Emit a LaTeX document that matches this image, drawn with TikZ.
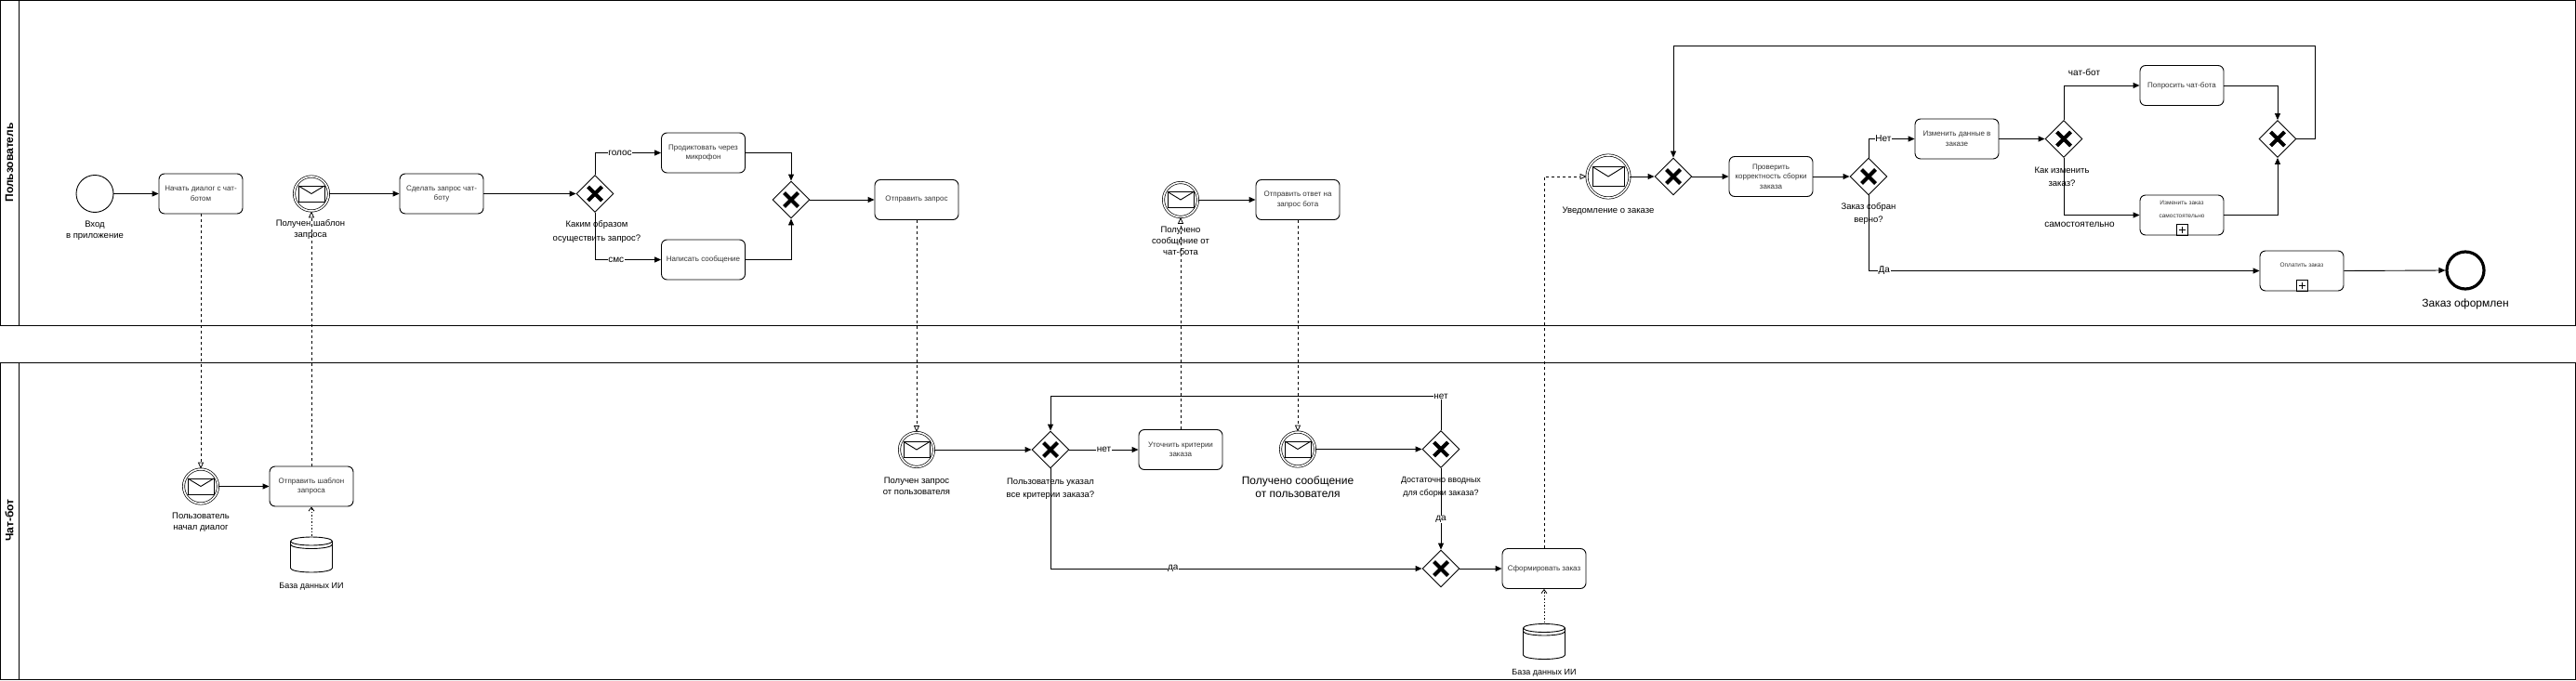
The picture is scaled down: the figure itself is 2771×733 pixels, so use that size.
\documentclass[tikz,border=0pt]{standalone}
\usepackage{fontspec}
\setmainfont{Liberation Sans}
\usetikzlibrary{arrows.meta,shapes.geometric,calc}
\definecolor{ink}{HTML}{000000}
\definecolor{tasktext}{HTML}{333333}

\newcommand{\mailicon}[2]{%
 \draw[line width=0.9pt] ([shift={(-#1,-#2)}]path picture bounding box.center) rectangle ([shift={(#1,#2)}]path picture bounding box.center);
 \draw[line width=0.9pt] ([shift={(-#1,#2)}]path picture bounding box.center) -- (path picture bounding box.center) -- ([shift={(#1,#2)}]path picture bounding box.center);}

\tikzset{
 task/.style={draw=ink,rounded corners=6pt,line width=0.9pt,minimum width=90pt,minimum height=43pt,align=center,inner sep=1pt,text=tasktext,font=\fontsize{8}{10.5}\selectfont},
 subtask/.style={task,font=\fontsize{6.5}{14}\selectfont},
 marker/.style={draw=ink,line width=0.8pt,minimum size=12pt,inner sep=0pt,path picture={\draw[line width=0.8pt] ([xshift=-3.5pt]path picture bounding box.center) -- ([xshift=3.5pt]path picture bounding box.center); \draw[line width=0.8pt] ([yshift=-3.5pt]path picture bounding box.center) -- ([yshift=3.5pt]path picture bounding box.center);}},
 startev/.style={circle,draw=ink,line width=0.9pt,minimum size=40pt,inner sep=0pt},
 endev/.style={circle,draw=ink,line width=3.2pt,minimum size=40pt,inner sep=0pt},
 msgev/.style={circle,draw=ink,double,double distance=1.6pt,line width=0.7pt,minimum size=37pt,inner sep=0pt,path picture={\mailicon{14pt}{8.5pt}}},
 msgbig/.style={msgev,minimum size=46pt,path picture={\mailicon{17pt}{10.5pt}}},
 gate/.style={diamond,draw=ink,line width=0.9pt,minimum size=40pt,inner sep=0pt,path picture={\draw[line width=4pt] ([shift={(-7.5pt,-7.5pt)}]path picture bounding box.center) -- ([shift={(7.5pt,7.5pt)}]path picture bounding box.center); \draw[line width=4pt] ([shift={(-7.5pt,7.5pt)}]path picture bounding box.center) -- ([shift={(7.5pt,-7.5pt)}]path picture bounding box.center);}},
 dbase/.style={fill=white,minimum width=47pt,minimum height=40pt,inner sep=0pt,path picture={
  \draw[line width=0.9pt] ([shift={(-22.5pt,14.5pt)}]path picture bounding box.center) arc[start angle=180,end angle=-180,x radius=22.5pt,y radius=4.5pt];
  \draw[line width=0.9pt] ([shift={(-22.5pt,14.5pt)}]path picture bounding box.center) -- ([shift={(-22.5pt,-14.5pt)}]path picture bounding box.center) arc[start angle=180,end angle=360,x radius=22.5pt,y radius=4.5pt] -- ([shift={(22.5pt,14.5pt)}]path picture bounding box.center);
  \draw[line width=0.9pt] ([shift={(-22.5pt,11pt)}]path picture bounding box.center) arc[start angle=180,end angle=360,x radius=22.5pt,y radius=4.5pt];}},
 evlbl/.style={align=center,font=\fontsize{9.5}{12}\selectfont},
 biglbl/.style={align=center,font=\fontsize{12}{14}\selectfont},
 gatelbl/.style={align=center,font=\fontsize{9.5}{14}\selectfont},
 flowlbl/.style={fill=white,inner sep=0.6pt,font=\fontsize{10}{12}\selectfont},
 flowtxt/.style={font=\fontsize{10}{12}\selectfont},
 flow/.style={-{Triangle[length=7pt,width=6pt]},line width=0.9pt,draw=ink},
 msgflow/.style={-{Triangle[open,length=7pt,width=6pt]},dash pattern=on 3pt off 3pt,line width=0.8pt},
 assoc/.style={-{Straight Barb[length=4pt,width=6pt]},dash pattern=on 1.5pt off 2pt,line width=0.8pt},
 pool/.style={draw=ink,line width=1pt},
 poollbl/.style={rotate=90,font=\fontsize{12}{14}\selectfont\bfseries}}

\begin{document}
\begin{tikzpicture}[x=1pt,y=-1pt]
\useasboundingbox (0,0) rectangle (2771,733);
% pools
\draw[pool] (0.5,0.5) rectangle (2770,350);
\draw[pool] (20,0.5) -- (20,350);
\draw[pool] (0.5,390) rectangle (2770,731);
\draw[pool] (20,390) -- (20,731);
\node[poollbl] (userpool) at (10,175) {Пользователь};
\node[poollbl] (botpool) at (10,560) {Чат-бот};

% user lane
\node[startev] (login) at (102,208.5) {};
\node[evlbl] (loginlbl) at (102,248) {Вход\\в приложение};
\node[task] (begin) at (216,208.5) {Начать диалог с чат-\\ботом};
\node[msgev] (gottpl) at (335,208.5) {};
\node[evlbl] (gottpllbl) at (334,247) {Получен шаблон\\запроса};
\node[task] (askbot) at (475,208.5) {Сделать запрос чат-\\боту};
\node[gate] (howreq) at (640,208.5) {};
\node[gatelbl,font=\fontsize{9.5}{15}\selectfont] (howreqlbl) at (642,249.5) {Каким образом\\осуществить запрос?};
\node[task] (dictate) at (756.5,164.5) {Продиктовать через\\микрофон};
\node[task] (write) at (756.5,279.5) {Написать сообщение};
\node[gate] (mergereq) at (851,215) {};
\node[task] (sendreq) at (986,215) {Отправить запрос};
\node[msgev] (gotbot) at (1270,215) {};
\node[evlbl] (gotbotlbl) at (1270,259) {Получено\\сообщение от\\чат-бота};
\node[task] (reply) at (1396,215) {Отправить ответ на\\запрос бота};
\node[msgbig] (notify) at (1730,190) {};
\node[evlbl] (notifylbl) at (1730,227) {Уведомление о заказе};
\node[gate] (mergecheck) at (1800,190) {};
\node[task] (check) at (1905,190) {Проверить\\корректность сборки\\заказа};
\node[gate] (correct) at (2010,190) {};
\node[gatelbl] (correctlbl) at (2010,230) {Заказ собран\\верно?};
\node[task] (editdata) at (2105,149.5) {Изменить данные в\\заказе};
\node[gate] (howedit) at (2220,149.5) {};
\node[gatelbl] (howeditlbl) at (2218,190) {Как изменить\\заказ?};
\node[task] (askchat) at (2347,92) {Попросить чат-бота};
\node[subtask] (editself) at (2347,231.5) {Изменить заказ\\самостоятельно\\[-2pt]\mbox{}};
\node[marker,anchor=south] (editmark) at (editself.south) {};
\node[gate] (mergeedit) at (2450,149.5) {};
\node[flowtxt] (botlbl) at (2242,78) {чат-бот};
\node[flowtxt] (selflbl) at (2237,242) {самостоятельно};
\node[subtask] (pay) at (2476,291.5) {Оплатить заказ\\[-1pt]\mbox{}};
\node[marker,anchor=south] (paymark) at (pay.south) {};
\node[endev] (done) at (2652,291) {};
\node[biglbl] (donelbl) at (2652,327) {Заказ оформлен};

% chat-bot lane
\node[msgev] (userstart) at (216,523.5) {};
\node[evlbl] (userstartlbl) at (216,562) {Пользователь\\начал диалог};
\node[task] (sendtpl) at (335,523.5) {Отправить шаблон\\запроса};
\node[dbase] (db1) at (335,597) {};
\node[evlbl,font=\fontsize{9}{12}\selectfont] (db1lbl) at (335,631) {База данных ИИ};
\node[msgev] (gotreq) at (986,484) {};
\node[evlbl] (gotreqlbl) at (986,523) {Получен запрос\\от пользователя};
\node[gate] (allcrit) at (1130,484) {};
\node[gatelbl] (allcritlbl) at (1130,526) {Пользователь указал\\все критерии заказа?};
\node[task] (clarify) at (1270,484) {Уточнить критерии\\заказа};
\node[msgev] (gotmsg) at (1396,483.5) {};
\node[biglbl] (gotmsglbl) at (1396,524) {Получено сообщение\\от пользователя};
\node[gate] (enough) at (1550,483.5) {};
\node[gatelbl,font=\fontsize{9}{14}\selectfont] (enoughlbl) at (1550,524) {Достаточно вводных\\для сборки заказа?};
\node[gate] (mergebuild) at (1550,612) {};
\node[task] (build) at (1661,612) {Сформировать заказ};
\node[dbase] (db2) at (1661,690.5) {};
\node[evlbl,font=\fontsize{9}{12}\selectfont] (db2lbl) at (1661,724) {База данных ИИ};

% sequence flows
\draw[flow] (login.east) -- (begin.west);
\draw[flow] (gottpl.east) -- (askbot.west);
\draw[flow] (askbot.east) -- (howreq.west);
\draw[flow] (howreq.north) |- node[flowlbl,pos=0.69] {голос} (dictate.west);
\draw[flow] (howreq.south) |- node[flowlbl,pos=0.66] {смс} (write.west);
\draw[flow] (dictate.east) -| (mergereq.north);
\draw[flow] (write.east) -| (mergereq.south);
\draw[flow] (mergereq.east) -- (sendreq.west);
\draw[flow] (gotbot.east) -- (reply.west);
\draw[flow] (notify.east) -- (mergecheck.west);
\draw[flow] (mergecheck.east) -- (check.west);
\draw[flow] (check.east) -- (correct.west);
\draw[flow] (correct.north) |- node[flowlbl,pos=0.66] {Нет} (editdata.west);
\draw[flow] (correct.south) |- node[flowlbl,pos=0.52] {Да} (pay.west);
\draw[flow] (editdata.east) -- (howedit.west);
\draw[flow] (howedit.north) |- (askchat.west);
\draw[flow] (howedit.south) |- (editself.west);
\draw[flow] (askchat.east) -| (mergeedit.north);
\draw[flow] (editself.east) -| (mergeedit.south);
\draw[flow] (mergeedit.east) -- ++(20,0) |- ([yshift=120pt]mergecheck.north) -- (mergecheck.north);
\draw[flow] (pay.east) -- (done.west);

\draw[flow] (userstart.east) -- (sendtpl.west);
\draw[flow] (gotreq.east) -- (allcrit.west);
\draw[flow] (allcrit.east) -- node[flowlbl] {нет} (clarify.west);
\draw[flow] (allcrit.south) |- node[flowlbl,pos=0.665] {да} (mergebuild.west);
\draw[flow] (gotmsg.east) -- (enough.west);
\draw[flow] (enough.north) |- node[flowlbl,pos=0.5] {нет} ([yshift=37pt]allcrit.north) -- (allcrit.north);
\draw[flow] (enough.south) -- node[flowlbl,pos=0.63] {да} (mergebuild.north);
\draw[flow] (mergebuild.east) -- (build.west);

% message flows
\draw[msgflow] (begin.south) -- (userstart.north);
\draw[msgflow] (sendtpl.north) -- (gottpl.south);
\draw[msgflow] (sendreq.south) -- (gotreq.north);
\draw[msgflow] (clarify.north) -- (gotbot.south);
\draw[msgflow] (reply.south) -- (gotmsg.north);
\draw[msgflow] (build.north) |- (notify.west);

% data associations
\draw[assoc] (db1.north) -- (sendtpl.south);
\draw[assoc] (db2.north) -- (build.south);
\end{tikzpicture}
\end{document}
